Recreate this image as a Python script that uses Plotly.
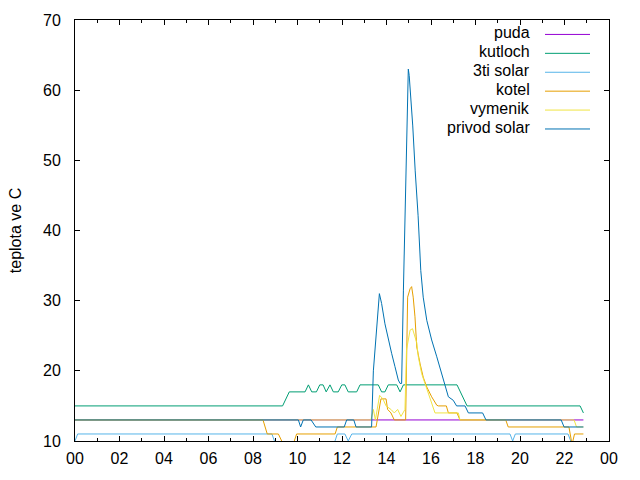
import plotly.graph_objects as go

# ---- data (hours of day, temperature in C) ----
names = ["puda", "kutloch", "3ti solar", "kotel", "vymenik", "privod solar"]
colors = ["#9400d3", "#009e73", "#56b4e9", "#e69f00", "#f0e442", "#0072b2"]

puda_t = [0, 22.85]
puda_v = [13, 13]

kutloch_t = [0, 9.33, 9.63, 10.34, 10.49, 10.64, 10.85, 11.0, 11.15, 11.29, 11.46, 11.61,
             11.83, 11.99, 12.13, 12.28, 12.66, 12.81, 13.63, 13.78, 13.93, 14.08, 14.46,
             14.61, 14.76, 17.17, 17.62, 22.70, 22.85]
kutloch_v = [15, 15, 17, 17, 18, 17, 17, 18, 18, 17, 18, 17,
             17, 18, 18, 17, 17, 18, 18, 17, 17, 18, 18,
             17, 18, 18, 15, 15, 14]

solar3_t = [0, 0.12, 8.85, 9.08, 11.58, 11.79, 12.13, 12.28, 12.44, 19.55, 19.67, 19.79,
            22.16, 22.40, 22.85]
solar3_v = [10, 11, 11, 9, 9, 11, 11, 10, 11, 11, 10, 11,
            11, 9, 9]

kotel_t = [0, 8.45, 8.64, 9.14, 9.44, 9.75, 9.96, 11.69, 11.79, 13.53, 13.75, 13.98,
           14.05, 14.20, 14.35, 14.86, 14.95, 15.06, 15.13, 15.20, 15.28, 15.36, 15.51,
           15.65, 15.81, 16.03, 16.26, 16.33, 16.69, 16.78, 17.17, 17.30, 19.36, 19.47,
           22.20, 22.34, 22.45, 22.85]
kotel_v = [13, 13, 11, 11, 9, 9, 11, 11, 12, 12, 16, 16,
           14.5, 14, 13, 13, 30.5, 31.7, 32, 30.5, 27.7, 23.4, 21,
           19.1, 17.7, 16.3, 15.1, 15, 15, 14, 14, 13, 13, 12,
           12, 9.5, 11, 11]

vymenik_t = [0, 13.30, 13.41, 13.50, 13.69, 13.84, 13.98, 14.20, 14.35, 14.50, 14.65,
             14.83, 14.90, 15.06, 15.17, 15.36, 15.43, 15.58, 15.73, 15.88, 16.03, 16.18,
             17.23, 17.30, 22.43, 22.54, 22.85]
vymenik_v = [13, 13, 14.5, 13, 16.5, 16, 15, 14.5, 14, 14.5, 13.5,
             14.5, 23, 25.8, 26, 24, 22, 19.6, 18.2, 16.8, 15.4, 14,
             14, 13, 13, 12, 12]

privod_t = [0, 10.04, 10.14, 10.26, 10.61, 10.82, 12.10, 12.21, 12.53, 12.63, 13.33,
            13.41, 13.68, 13.78, 13.93, 14.08, 14.23, 14.38, 14.53, 14.61, 14.68, 14.76,
            14.88, 14.98, 15.02, 15.08, 15.18, 15.29, 15.42, 15.54, 15.65, 15.81, 16.03,
            16.26, 16.48, 16.63, 16.78, 17.00, 17.15, 17.53, 17.68, 18.32, 18.47, 21.85,
            21.98, 22.85]
privod_v = [13, 13, 12, 13, 13, 12, 12, 13, 13, 12, 12,
            20, 31, 29.6, 26.7, 24.4, 22.5, 20.6, 18.7, 18.2, 18.2, 31.5,
            51.4, 63, 62.1, 59.6, 54.9, 48.5, 42.1, 34.3, 30.5, 27.2, 24.4,
            22.0, 19.6, 17.7, 16.3, 15.8, 15, 15, 14, 14, 13, 13,
            12, 12]

x_tickvals = list(range(0, 25, 2))
x_ticktext = ["00", "02", "04", "06", "08", "10", "12", "14", "16", "18", "20", "22", "00"]
y_tickvals = [10, 20, 30, 40, 50, 60, 70]

series = [
    (puda_t, puda_v),
    (kutloch_t, kutloch_v),
    (solar3_t, solar3_v),
    (kotel_t, kotel_v),
    (vymenik_t, vymenik_v),
    (privod_t, privod_v),
]

FONT = "Liberation Sans, Arial, sans-serif"

fig = go.Figure()
for (t, v), name, col in zip(series, names, colors):
    fig.add_trace(go.Scatter(x=t, y=v, mode="lines", name=name,
                             line=dict(color=col, width=1), showlegend=False))

# plot area in pixels
L, R, T, B = 75, 609, 18, 441
W, H = 640, 480

# gnuplot-style legend (text right-aligned, sample line on the right)
shapes = []
annotations = []
for i, (name, col) in enumerate(zip(names, colors)):
    py = 32.5 + 19 * i
    yp = (B - py) / (B - T)
    annotations.append(dict(x=(532 - L) / (R - L), y=(B - py + 1.5) / (B - T),
                            xref="paper", yref="paper",
                            text=name, showarrow=False, xanchor="right", yanchor="middle",
                            font=dict(family=FONT, size=16, color="black")))
    shapes.append(dict(type="line", xref="paper", yref="paper",
                       x0=(545 - L) / (R - L), x1=(590 - L) / (R - L), y0=yp, y1=yp,
                       line=dict(color=col, width=1)))

fig.update_layout(
    width=W, height=H,
    margin=dict(l=L, r=W - R, t=T, b=H - B),
    paper_bgcolor="white", plot_bgcolor="white",
    font=dict(family=FONT, size=16, color="black"),
    shapes=shapes, annotations=annotations,
)
fig.update_xaxes(range=[0, 24], tickvals=x_tickvals, ticktext=x_ticktext,
                 ticks="inside", ticklen=5, tickcolor="black", showgrid=False,
                 zeroline=False, showline=True, linecolor="black", linewidth=1,
                 mirror="ticks",
                 minor=dict(ticks="inside", ticklen=3, dtick=1, tick0=0, tickcolor="black",
                            showgrid=False),
                 ticklabelstandoff=3)
fig.update_yaxes(range=[10, 70], tickvals=y_tickvals,
                 ticks="inside", ticklen=5, tickcolor="black", showgrid=False,
                 zeroline=False, showline=True, linecolor="black", linewidth=1,
                 mirror="ticks", ticklabelstandoff=10,
                 title=dict(text="teplota ve C", standoff=17,
                            font=dict(family=FONT, size=16, color="black")))

fig.write_html("out.html")
